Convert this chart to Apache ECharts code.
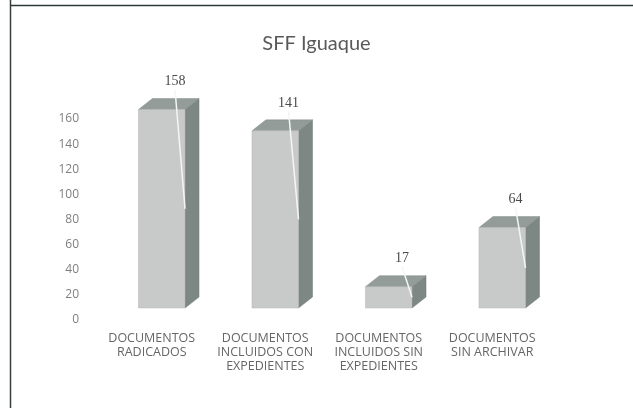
<!DOCTYPE html>
<html>
<head>
<meta charset="utf-8">
<script src="https://cdn.jsdelivr.net/npm/echarts@6/dist/echarts.min.js"></script>
<style>
  html, body { margin: 0; padding: 0; background: #fff; }
  #myChart { width: 633px; height: 408px; }
</style>
</head>
<body>
<div id="myChart"></div>
<script>
// datos
let categories = [
  'DOCUMENTOS\nRADICADOS',
  'DOCUMENTOS\nINCLUIDOS CON\nEXPEDIENTES',
  'DOCUMENTOS\nINCLUIDOS SIN\nEXPEDIENTES',
  'DOCUMENTOS\nSIN ARCHIVAR'
];
let values = [158, 141, 17, 64];
let yMin = 0;
let yMax = 160;
let yStep = 20;

// caja 3D: cara frontal, lateral y superior
function renderBox(params, api) {
  let idx = api.value(0);
  let val = api.value(1);
  let base = api.coord([idx, 0]);
  let top = api.coord([idx, val]);
  let band = api.size([1, 0])[0];
  let w = band * 0.41;
  let shiftX = 10, shiftY = -12;
  let dx = 14, dy = -11;
  let x0 = base[0] + shiftX - w / 2;
  let x1 = x0 + w;
  let yb = base[1] + shiftY;
  let yt = top[1] + shiftY;
  let lx = x1 - 10;
  let ly = yt + dy - 17;
  return {
    type: 'group',
    children: [
      {
        type: 'polygon',
        shape: { points: [[x1, yb], [x1 + dx, yb + dy], [x1 + dx, yt + dy], [x1, yt]] },
        style: { fill: '#7d8884', stroke: '#6f7a76', lineWidth: 0.5 }
      },
      {
        type: 'polygon',
        shape: { points: [[x0, yt], [x1, yt], [x1 + dx, yt + dy], [x0 + dx, yt + dy]] },
        style: { fill: '#939c98', stroke: '#858f8b', lineWidth: 0.5 }
      },
      {
        type: 'rect',
        shape: { x: x0, y: yt, width: w, height: yb - yt },
        style: { fill: '#c8cac9', stroke: '#b4b7b5', lineWidth: 0.5 }
      },
      {
        type: 'line',
        shape: { x1: lx, y1: ly + 8, x2: x1, y2: (yt + yb) / 2 },
        style: { stroke: '#f4f6f5', lineWidth: 1.5 }
      },
      {
        type: 'text',
        style: {
          x: lx, y: ly, text: String(val),
          fill: '#4a4a4a', font: '14px "Liberation Serif"',
          align: 'center', verticalAlign: 'middle'
        }
      }
    ]
  };
}

let option = {
  backgroundColor: '#fff',
  animation: false,
  title: {
    text: 'SFF Iguaque',
    left: 'center',
    top: 29,
    textStyle: { fontFamily: 'Lato', fontSize: 20, fontWeight: 'normal', color: '#595959' }
  },
  graphic: [
    { type: 'line', shape: { x1: 10.5, y1: 0, x2: 10.5, y2: 408 }, style: { stroke: '#38403e', lineWidth: 1.5 } },
    { type: 'line', shape: { x1: 10, y1: 5.5, x2: 633, y2: 5.5 }, style: { stroke: '#2f3a38', lineWidth: 1.5 } }
  ],
  grid: { left: 95, right: 84, top: 119, bottom: 88 },
  xAxis: {
    type: 'category',
    data: categories,
    axisLine: { show: false },
    axisTick: { show: false },
    axisLabel: {
      interval: 0,
      margin: 11,
      color: '#666666',
      fontFamily: 'Open Sans',
      fontSize: 12.5,
      lineHeight: 14
    }
  },
  yAxis: {
    type: 'value',
    min: yMin,
    max: yMax,
    interval: yStep,
    axisLine: { show: false },
    axisTick: { show: false },
    splitLine: { show: false },
    axisLabel: { color: '#7f7f7f', fontFamily: 'Open Sans', fontSize: 12, margin: 16 }
  },
  series: [
    {
      type: 'custom',
      renderItem: renderBox,
      clip: false,
      data: values.map((v, i) => [i, v])
    }
  ]
};

let myChart = echarts.init(document.getElementById('myChart'));
myChart.setOption(option);
</script>
</body>
</html>
